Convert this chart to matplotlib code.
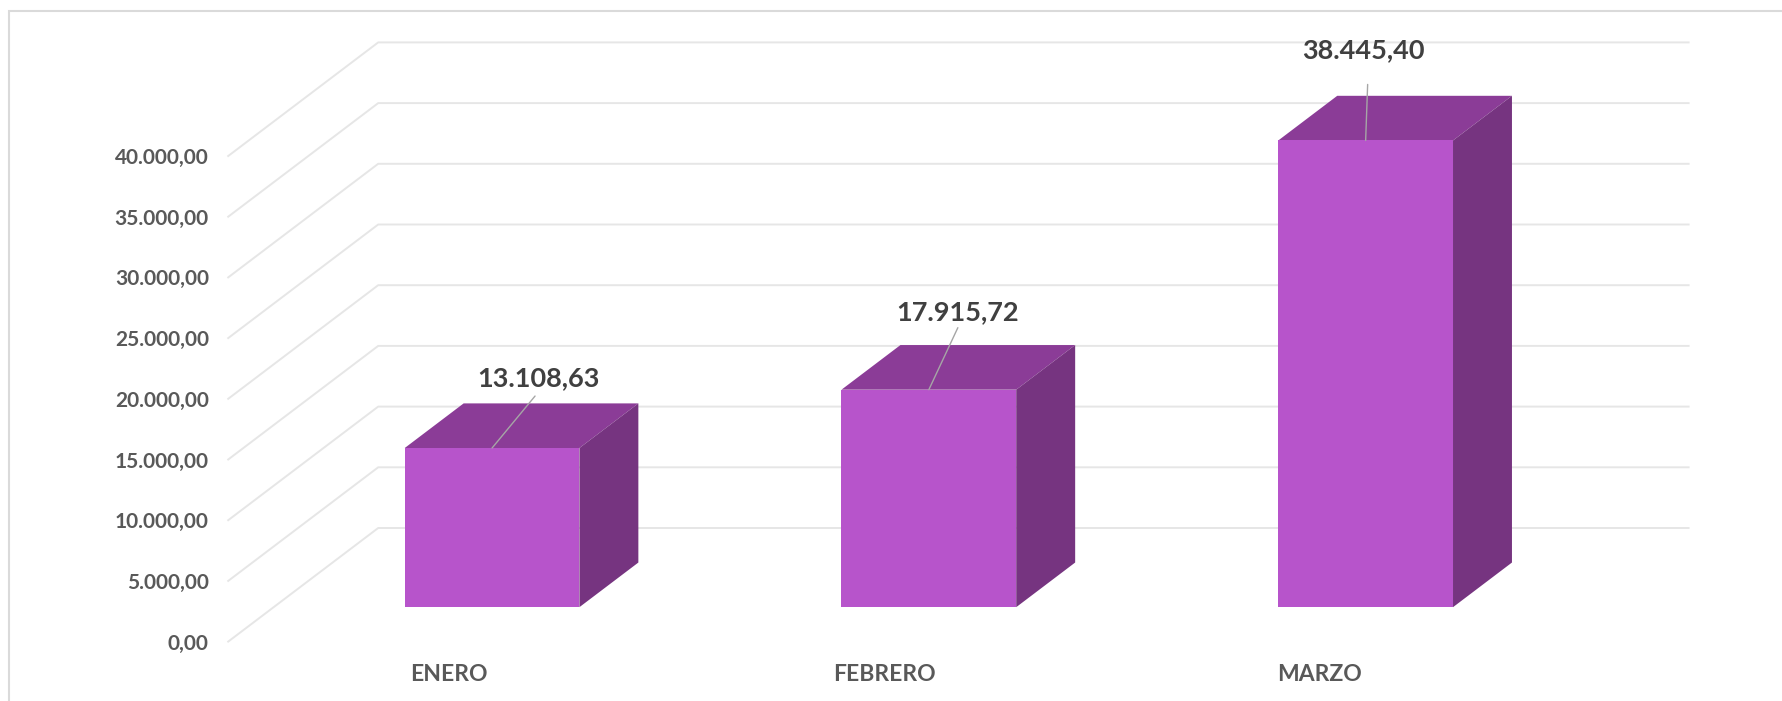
"""Facturacion por mes, barras con aspecto 3D."""
import matplotlib

matplotlib.use("Agg")
import matplotlib.pyplot as plt
from matplotlib.patches import Polygon

months = ["ENERO", "FEBRERO", "MARZO"]
values = [13108.63, 17915.72, 38445.40]
value_labels = ["13.108,63", "17.915,72", "38.445,40"]
y_ticks = [0, 5000, 10000, 15000, 20000, 25000, 30000, 35000, 40000]
y_tick_labels = ["0,00", "5.000,00", "10.000,00", "15.000,00", "20.000,00",
                 "25.000,00", "30.000,00", "35.000,00", "40.000,00"]

W, H = 1782, 701
FRONT = "#B754CB"
TOP = "#8B3C97"
SIDE = "#763480"
GRID = "#E6E6E6"

# plot area in pixels: front wall edge, category width and value scale
left_px, right_px = 228.2, 1538.6
bottom_px, top_px = 641.6, 156.0
cat_w = (right_px - left_px) / 3
val_px = (bottom_px - top_px) / 40000

plt.rcParams["font.family"] = ["Lato", "DejaVu Sans"]
plt.rcParams["font.weight"] = "bold"

fig = plt.figure(figsize=(W / 100, H / 100), dpi=100)
# chart frame, right and bottom edges fall outside the crop
fig.patches.append(plt.Rectangle((9 / W, -0.1), 1.1, 1.1 - 11 / H, transform=fig.transFigure,
                                 fill=False, edgecolor="#DADADA", linewidth=1.5))
ax = fig.add_axes([left_px / W, 1 - bottom_px / H, (right_px - left_px) / W, (bottom_px - top_px) / H])
ax.set_xlim(-0.5, 2.5)
ax.set_ylim(0, 40000)
ax.patch.set_visible(False)
for s in ax.spines.values():
    s.set_visible(False)

# depth of the box, as category and value units
depth_x = 150 / cat_w
depth_y = 113.6 / val_px

for t in y_ticks:
    ax.plot([-0.5, -0.5 + depth_x, 2.5 + depth_x], [t, t + depth_y, t + depth_y],
            color=GRID, linewidth=1.4, clip_on=False, zorder=1)

# bar sits in the middle of the depth
gap = 0.303
bar_depth = 0.393
bar_w = 0.4
text_offsets = [(46, 70), (29, 78), (-2, 90)]
line_offsets = [(43, 52), (29, 62), (2, 56)]
label_shift = [5, -8, -1]

for i, v in enumerate(values):
    x0 = i - bar_w / 2 + gap * depth_x
    x1 = x0 + bar_w
    b = gap * depth_y
    dx = bar_depth * depth_x
    dy = bar_depth * depth_y
    ax.add_patch(Polygon([(x0, b + v), (x1, b + v), (x1 + dx, b + v + dy), (x0 + dx, b + v + dy)],
                         closed=True, facecolor=TOP, edgecolor="none", clip_on=False, zorder=3))
    ax.add_patch(Polygon([(x1, b), (x1 + dx, b + dy), (x1 + dx, b + v + dy), (x1, b + v)],
                         closed=True, facecolor=SIDE, edgecolor="none", clip_on=False, zorder=3))
    ax.bar(x0, v, width=bar_w, bottom=b, align="edge", color=FRONT, edgecolor="none",
           clip_on=False, zorder=4)
    c = (x0 + x1) / 2
    ax.annotate("", xy=(c, b + v), xytext=line_offsets[i], textcoords="offset pixels",
                arrowprops=dict(arrowstyle="-", color="#A6A6A6", linewidth=1, shrinkA=0, shrinkB=0),
                zorder=5, annotation_clip=False)
    ax.annotate(value_labels[i], xy=(c, b + v), xytext=text_offsets[i], textcoords="offset pixels",
                ha="center", va="center", fontsize=19.5, color="#404040", zorder=6, annotation_clip=False)

ax.set_yticks(y_ticks)
ax.set_yticklabels(y_tick_labels, fontsize=15, color="#595959")
ax.tick_params(axis="y", length=0, pad=14)

ax.set_xticks([])
for i, m in enumerate(months):
    x0 = i - bar_w / 2 + gap * depth_x
    ax.annotate(m, xy=(x0, 0), xytext=(label_shift[i], -33), textcoords="offset pixels",
                ha="left", va="center", fontsize=16.5, color="#595959", annotation_clip=False)

fig.savefig("out.png", dpi=100, facecolor="white")
plt.close(fig)
